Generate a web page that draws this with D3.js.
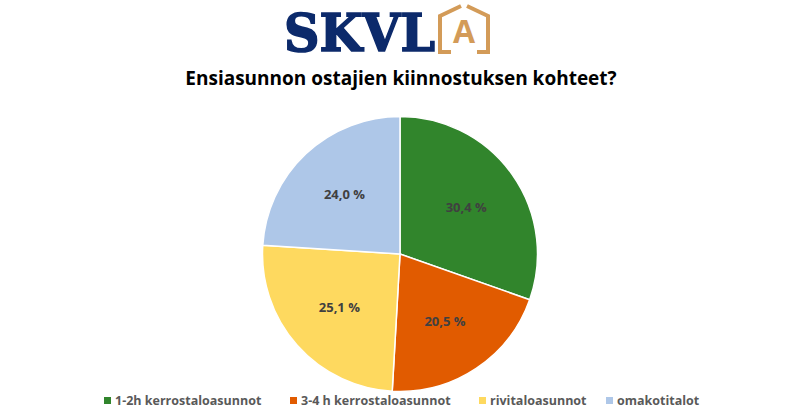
<!DOCTYPE html>
<html>
<head>
<meta charset="utf-8">
<script src="https://cdn.jsdelivr.net/npm/d3@7"></script>
<style>
  body { margin: 0; background: #fff; }
  svg { display: block; }
</style>
</head>
<body>
<div id="chart"></div>
<script>
// Data
const categories = ['1-2h kerrostaloasunnot', '3-4 h kerrostaloasunnot', 'rivitaloasunnot', 'omakotitalot']
const shares = [30.4, 20.5, 25.1, 24.0]
const colors = ['#31852c', '#e15b00', '#fed95f', '#aec7e8']
const title = 'Ensiasunnon ostajien kiinnostuksen kohteet?'

const width = 800
const height = 418
const svg = d3.select('#chart').append('svg')
    .attr('width', width)
    .attr('height', height)
    .style('font-family', '"Open Sans", "Liberation Sans", sans-serif')

// Logo
const logo = svg.append('g').attr('class', 'logo')
logo.append('text')
    .attr('x', 284)
    .attr('y', 51)
    .attr('textLength', 151)
    .attr('lengthAdjust', 'spacingAndGlyphs')
    .style('font-family', '"DejaVu Serif", "Liberation Serif", serif')
    .style('font-weight', 'bold')
    .style('font-size', '52px')
    .attr('fill', '#0c2a6b')
    .attr('stroke', '#0c2a6b')
    .attr('stroke-width', 1.6)
    .text('SKVL')

const house = d3.path()
house.moveTo(461, 6); house.lineTo(440, 16); house.lineTo(440, 52); house.lineTo(451, 52)
house.moveTo(467, 6); house.lineTo(488, 16); house.lineTo(488, 52); house.lineTo(477, 52)
logo.append('path')
    .attr('d', house.toString())
    .attr('fill', 'none')
    .attr('stroke', '#d39b58')
    .attr('stroke-width', 4)
logo.append('text')
    .attr('x', 464)
    .attr('y', 43)
    .attr('text-anchor', 'middle')
    .style('font-family', '"Open Sans", sans-serif')
    .style('font-weight', 'bold')
    .style('font-size', '32px')
    .attr('fill', '#d39b58')
    .text('A')

// Title
svg.append('text')
    .attr('x', 401)
    .attr('y', 85)
    .attr('text-anchor', 'middle')
    .style('font-weight', 'bold')
    .style('font-size', '19px')
    .attr('fill', '#000')
    .text(title)

// Pie
const cx = 400
const cy = 254
const radius = 137.5
const pie = d3.pie().sort(null).value(d => d)
const arc = d3.arc().innerRadius(0).outerRadius(radius)
const labelArc = d3.arc().innerRadius(radius * 0.59).outerRadius(radius * 0.59)

const chart = svg.append('g').attr('transform', `translate(${cx}, ${cy})`)
const slices = chart.selectAll('g.slice')
    .data(pie(shares))
    .enter()
    .append('g')
    .classed('slice', true)

slices.append('path')
    .attr('d', arc)
    .attr('fill', (_, i) => colors[i])
    .attr('stroke', '#fff')
    .attr('stroke-width', 1.5)

slices.append('text')
    .attr('transform', d => `translate(${labelArc.centroid(d)})`)
    .attr('text-anchor', 'middle')
    .attr('dy', '0.35em')
    .style('font-weight', 'bold')
    .style('font-size', '13px')
    .attr('fill', '#404040')
    .text(d => d3.format('.1f')(d.data).replace('.', ',') + ' %')

// Legend
const legendX = d3.scaleOrdinal().domain(categories).range([104, 290, 479, 606])
const legend = svg.append('g').attr('class', 'legend')
const items = legend.selectAll('g.item')
    .data(categories)
    .enter()
    .append('g')
    .classed('item', true)
    .attr('transform', d => `translate(${legendX(d)}, 401)`)

items.append('rect')
    .attr('x', 0)
    .attr('y', -4)
    .attr('width', 7)
    .attr('height', 7)
    .attr('fill', (_, i) => colors[i])

items.append('text')
    .attr('x', 11)
    .attr('dy', '0.35em')
    .style('font-weight', 'bold')
    .style('font-size', '12.5px')
    .attr('fill', '#595959')
    .text(d => d)
</script>
</body>
</html>
